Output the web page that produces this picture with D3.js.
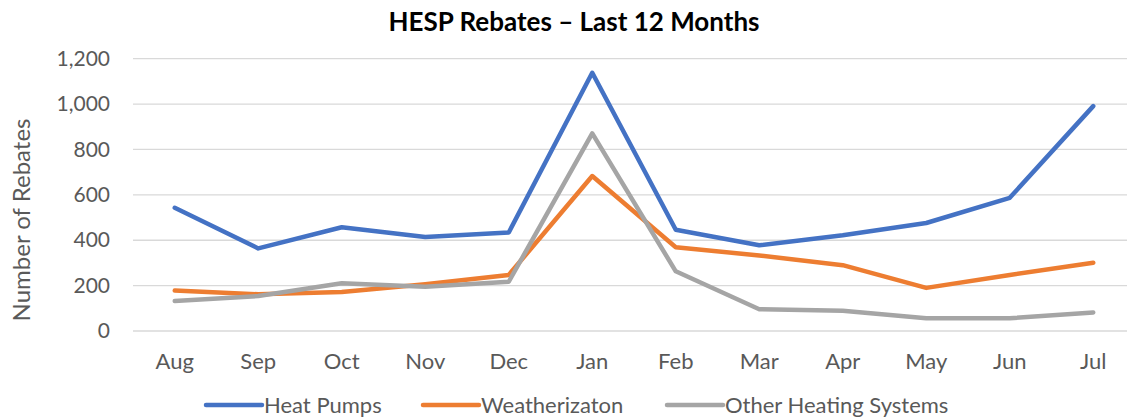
<!DOCTYPE html>
<html>
<head>
<meta charset="utf-8">
<script src="https://cdn.jsdelivr.net/npm/d3@7"></script>
<style>
  body { margin: 0; background: #fff; }
  svg { display: block; font-family: Lato, "Open Sans", sans-serif; }
</style>
</head>
<body>
<svg></svg>
<script>
const months = ["Aug", "Sep", "Oct", "Nov", "Dec", "Jan", "Feb", "Mar", "Apr", "May", "Jun", "Jul"]
const heatPumps = [543, 364, 457, 414, 434, 1138, 446, 378, 422, 476, 587, 991]
const weatherization = [178, 162, 172, 206, 247, 683, 369, 333, 290, 190, 247, 301]
const otherHeating = [132, 154, 210, 195, 217, 871, 263, 96, 89, 56, 56, 82]
const yTicks = [0, 200, 400, 600, 800, 1000, 1200]
const seriesNames = ["Heat Pumps", "Weatherizaton", "Other Heating Systems"]
const seriesColors = ["#4472C4", "#ED7D31", "#A5A5A5"]

const series = [heatPumps, weatherization, otherHeating].map((values, i) => ({name: seriesNames[i], color: seriesColors[i], values}))

const svg = d3.select("svg").attr("width", 1127).attr("height", 420)
const textColor = "#595959"

const x = d3.scaleBand().domain(months).range([133, 1135]),
      y = d3.scaleLinear().domain([0, 1200]).range([331, 58.7]),
      line = d3.line().x((v, i) => x(months[i]) + x.bandwidth() / 2).y(v => y(v))

// gridlines
svg.append("g").selectAll("line").data(yTicks).join("line")
  .attr("x1", 133).attr("x2", 1127).attr("y1", d => y(d)).attr("y2", d => y(d))
  .style("stroke", "#D9D9D9").style("stroke-width", 1.3)

// y axis
const yAxis = svg.append("g").attr("transform", "translate(122,0)")
  .call(d3.axisLeft(y).tickValues(yTicks).tickFormat(d3.format(",")).tickSize(0).tickPadding(12))
yAxis.select(".domain").remove()
yAxis.selectAll("text").style("font-size", "21px").style("fill", textColor).style("font-family", "Lato, sans-serif")

// x axis
const xAxis = svg.append("g").attr("transform", "translate(0,340)")
  .call(d3.axisBottom(x).tickSize(0).tickPadding(13))
xAxis.select(".domain").remove()
xAxis.selectAll("text").style("font-size", "22px").style("fill", textColor).style("font-family", "Lato, sans-serif")

// lines
svg.append("g").selectAll("path").data(series).join("path")
  .attr("d", d => line(d.values))
  .style("fill", "none").style("stroke", d => d.color).style("stroke-width", 4.5)
  .style("stroke-linejoin", "round").style("stroke-linecap", "round")

// title
svg.append("text").text("HESP Rebates \u2013 Last 12 Months")
  .attr("x", 574).attr("y", 31).style("text-anchor", "middle")
  .style("font-size", "26px").style("font-weight", 700).style("fill", "#000")

// y axis title
svg.append("text").text("Number of Rebates")
  .attr("transform", "translate(30,220) rotate(-90)").style("text-anchor", "middle")
  .style("font-size", "24px").style("fill", textColor)

// legend
const legendX = [206, 423, 667]
const legend = svg.append("g").selectAll("g").data(series).join("g")
  .attr("transform", (d, i) => `translate(${legendX[i]},405)`)
legend.append("line").attr("x1", 0).attr("x2", 56).attr("y1", 0).attr("y2", 0)
  .style("stroke", d => d.color).style("stroke-width", 4.5).style("stroke-linecap", "round")
legend.append("text").text(d => d.name).attr("x", 58).attr("y", 0).attr("dy", "0.35em")
  .style("font-size", "22px").style("fill", textColor)
</script>
</body>
</html>
